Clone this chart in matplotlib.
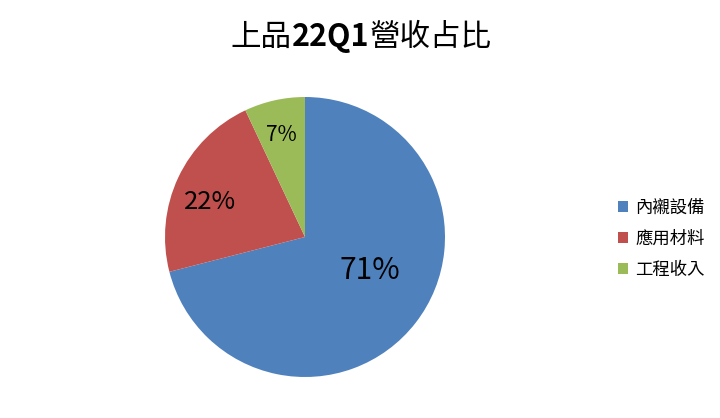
import matplotlib
matplotlib.use("Agg")
import matplotlib.pyplot as plt

plt.rcParams['font.family'] = ['Noto Sans CJK TC', 'DejaVu Sans']

labels = ['內襯設備', '應用材料', '工程收入']
shares = [71, 22, 7]
colors = ['#4F81BD', '#C0504D', '#9BBB59']
pct_labels = ['71%', '22%', '7%']

fig = plt.figure(figsize=(7.2, 4.18), dpi=100)

# pie axes: centre ~ (305, 237) px, radius ~140 px
cx, cy, r = 305, 418 - 237, 140
ax = fig.add_axes([(cx - r) / 720, (cy - r) / 418, 2 * r / 720, 2 * r / 418])
wedges, _ = ax.pie(shares, colors=colors, startangle=90, counterclock=False,
                   wedgeprops=dict(linewidth=0))
ax.set_xlim(-1, 1)
ax.set_ylim(-1, 1)
ax.set_aspect('equal')

# percentage labels, placed inside each slice
pct_pos = [(0.46, -0.24), (-0.68, 0.25), (-0.17, 0.73)]
pct_size = [21.5, 18.5, 15]
for txt, (x, y), s in zip(pct_labels, pct_pos, pct_size):
    ax.text(x, y, txt, ha='center', va='center', fontsize=s, color='black')

# title: CJK normal, 22Q1 bold
parts = [('上品', 'normal'), ('22Q1', 'bold'), ('營收占比', 'normal')]
renderer = fig.canvas.get_renderer()
texts = []
for s, w in parts:
    t = fig.text(0, 1 - 37 / 418, s, fontsize=22, fontweight=w, va='center', ha='left')
    texts.append(t)
widths = [t.get_window_extent(renderer).width for t in texts]
x_px = 361 - sum(widths) / 2
for t, w in zip(texts, widths):
    t.set_x(x_px / 720)
    x_px += w

leg = fig.legend(wedges, labels, loc='center left', bbox_to_anchor=(602 / 720, 1 - 239 / 418),
                 frameon=False, fontsize=12.5, handlelength=0.6, handleheight=0.6,
                 handletextpad=0.4, labelspacing=0.75)

fig.savefig('out.png', dpi=100)
